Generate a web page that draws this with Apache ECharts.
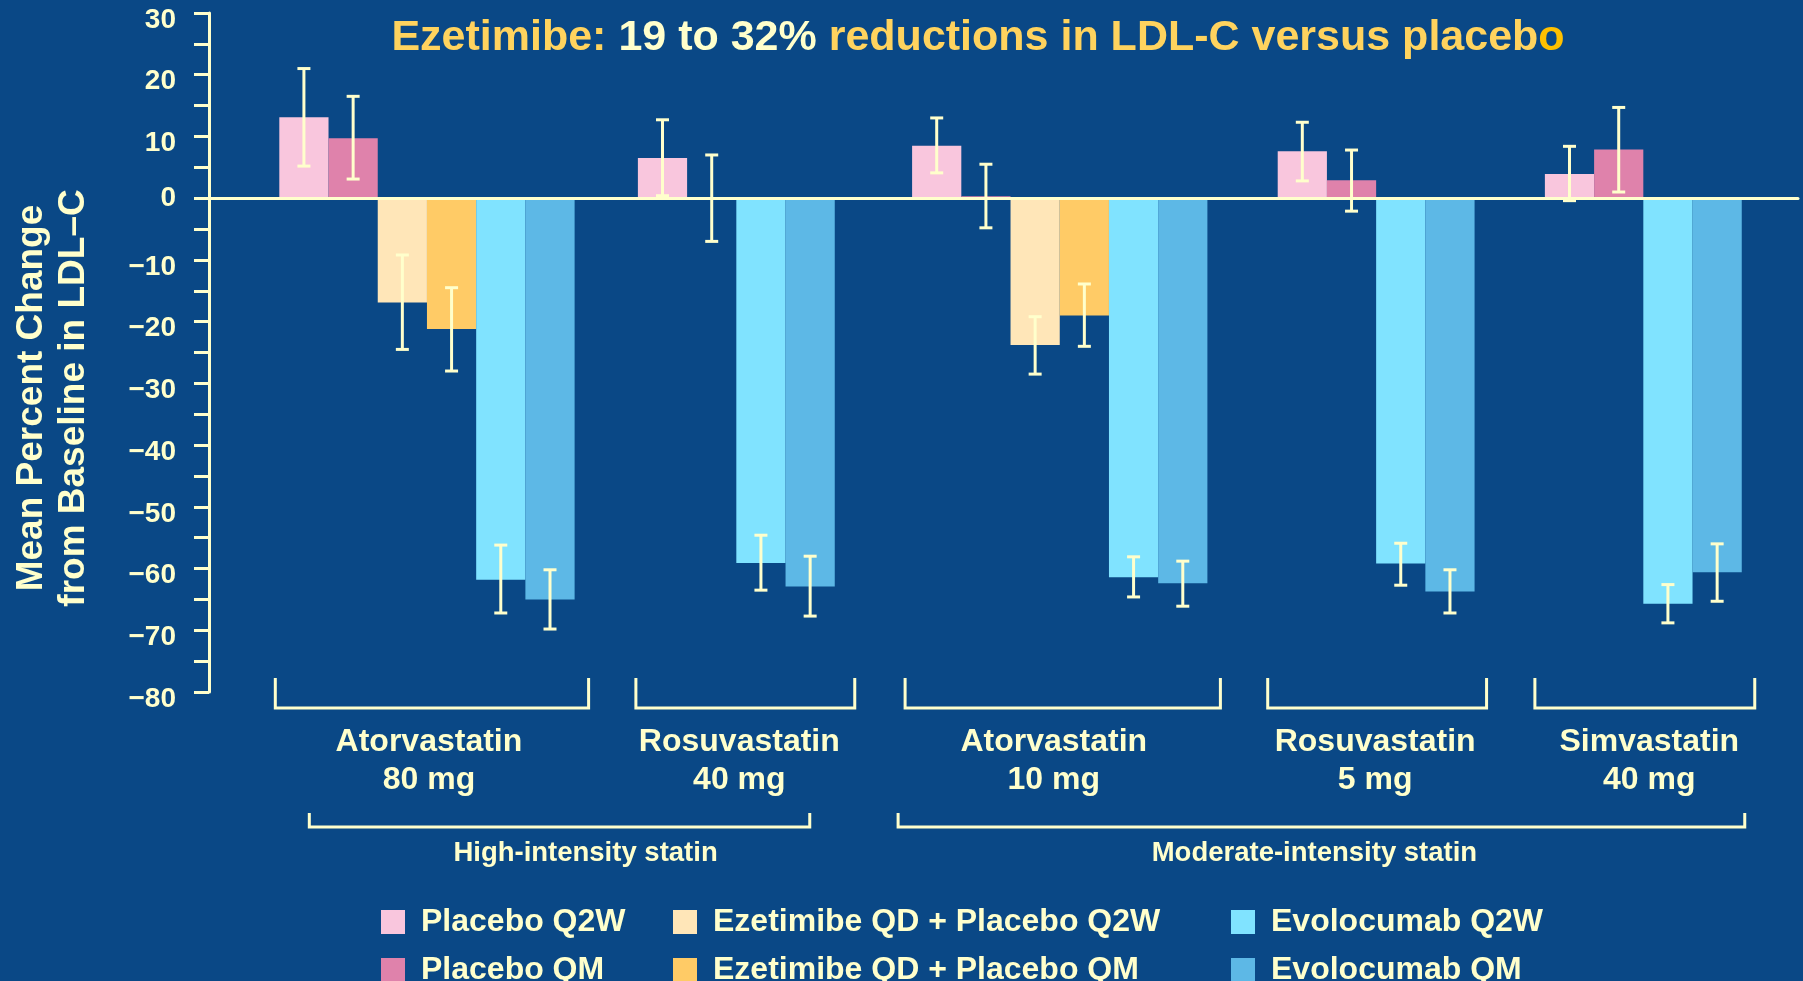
<!DOCTYPE html>
<html><head><meta charset="utf-8">
<script src="https://cdn.jsdelivr.net/npm/echarts@6/dist/echarts.min.js"></script>
<style>html,body{margin:0;padding:0;background:#0A4886;}#c{width:1803px;height:981px;}</style>
</head><body><div id="c"></div>
<script>
// ---------------- data ----------------
const groupLabels = ['Atorvastatin\n80 mg', 'Rosuvastatin\n40 mg', 'Atorvastatin\n10 mg', 'Rosuvastatin\n5 mg', 'Simvastatin\n40 mg'];
const intensityLabels = ['High-intensity statin', 'Moderate-intensity statin'];
const intensityGroups = [[0, 1], [2, 4]];
const seriesNames = ['Placebo Q2W', 'Placebo QM', 'Ezetimibe QD + Placebo Q2W', 'Ezetimibe QD + Placebo QM', 'Evolocumab Q2W', 'Evolocumab QM'];

const placeboQ2W     = [13.1, 6.5, 8.5, 7.6, 3.9];
const placeboQ2WLow  = [5.2, 0.4, 4.1, 2.8, -0.4];
const placeboQ2WHigh = [21.0, 12.7, 13.0, 12.3, 8.4];

const placeboQM      = [9.7, -0.3, 0.3, 2.9, 7.9];
const placeboQMLow   = [3.1, -7.0, -4.8, -2.1, 1.0];
const placeboQMHigh  = [16.5, 7.0, 5.5, 7.8, 14.7];

const ezeQ2W         = [-16.9, null, -23.8, null, null];
const ezeQ2WLow      = [-24.5, null, -28.5, null, null];
const ezeQ2WHigh     = [-9.2, null, -19.2, null, null];

const ezeQM          = [-21.2, null, -19.0, null, null];
const ezeQMLow       = [-28.0, null, -24.0, null, null];
const ezeQMHigh      = [-14.5, null, -13.9, null, null];

const evoQ2W         = [-61.8, -59.1, -61.4, -59.2, -65.7];
const evoQ2WLow      = [-67.2, -63.5, -64.6, -62.7, -68.8];
const evoQ2WHigh     = [-56.2, -54.6, -58.1, -55.9, -62.6];

const evoQM          = [-65.0, -62.9, -62.4, -63.7, -60.6];
const evoQMLow       = [-69.8, -67.7, -66.1, -67.2, -65.3];
const evoQMHigh      = [-60.2, -58.0, -58.8, -60.2, -56.0];

const seriesValues = [placeboQ2W, placeboQM, ezeQ2W, ezeQM, evoQ2W, evoQM];
const seriesLows   = [placeboQ2WLow, placeboQMLow, ezeQ2WLow, ezeQMLow, evoQ2WLow, evoQMLow];
const seriesHighs  = [placeboQ2WHigh, placeboQMHigh, ezeQ2WHigh, ezeQMHigh, evoQ2WHigh, evoQMHigh];

// ---------------- style / layout ----------------
const colors = ['#F9C6DD', '#DF82AB', '#FFE6B8', '#FFCB66', '#80E3FF', '#5DB8E6'];
const CREAM = '#FFFFCC';
const GOLD = '#FFD35E';
const BG = '#0A4886';
const FONT = "'Liberation Sans', Arial, Helvetica, sans-serif";
const BAR_SLOTS = 7, LEAD = 10, GROUP_GAPS = [9, 11, 10, 10], TRAIL = 8;
const bracketPadL = [-4, -2, -7, -10, -10];
const bracketPadR = [14, 20, 13, 12, 13];
const innerLabelDx = [2, 3, -6, -1, 6];
const outerInsets = [[30, -25], [-14, 3]];
const outerLabelDx = [26, -7];

// build slot categories (each bar spans BAR_SLOTS narrow categories)
const categories = [];
function addBlank(n) { for (let i = 0; i < n; i++) categories.push('gap ' + categories.length); }
const centers = seriesNames.map(() => []);
const groupSpan = [];
addBlank(LEAD);
groupLabels.forEach((gl, g) => {
  let first = null, last = null;
  seriesValues.forEach((vals, s) => {
    if (vals[g] == null) { centers[s][g] = null; return; }
    addBlank(Math.floor(BAR_SLOTS / 2));
    const c = categories.length;
    categories.push(gl.replace('\n', ' ') + ' · ' + seriesNames[s]);
    addBlank(BAR_SLOTS - 1 - Math.floor(BAR_SLOTS / 2));
    centers[s][g] = c;
    if (first === null) first = c;
    last = c;
  });
  groupSpan.push([first, last]);
  if (g < GROUP_GAPS.length) addBlank(GROUP_GAPS[g]);
});
addBlank(TRAIL);

const barSeries = seriesValues.map((vals, s) => {
  const data = categories.map(() => '-');
  vals.forEach((v, g) => { if (v != null) data[centers[s][g]] = v; });
  return {
    type: 'bar', name: seriesNames[s], stack: 'all', barWidth: (BAR_SLOTS * 100) + '%',
    data: data, itemStyle: { color: colors[s] }, z: 2, silent: true
  };
});

const errData = [];
seriesValues.forEach((vals, s) => vals.forEach((v, g) => {
  if (v != null) errData.push([centers[s][g], seriesLows[s][g], seriesHighs[s][g]]);
}));

const lineStyle = { stroke: CREAM, lineWidth: 3, fill: null };
const errorSeries = {
  type: 'custom', name: 'error', z: 6, silent: true,
  encode: { x: 0, y: [1, 2] },
  data: errData,
  renderItem(params, api) {
    const x = api.value(0);
    const t = api.coord([x, api.value(2)]);
    const b = api.coord([x, api.value(1)]);
    const hw = 6.5;
    return { type: 'group', children: [
      { type: 'line', shape: { x1: t[0], y1: t[1], x2: b[0], y2: b[1] }, style: lineStyle },
      { type: 'line', shape: { x1: t[0] - hw, y1: t[1], x2: t[0] + hw, y2: t[1] }, style: lineStyle },
      { type: 'line', shape: { x1: b[0] - hw, y1: b[1], x2: b[0] + hw, y2: b[1] }, style: lineStyle }
    ] };
  }
};

const bracketSeries = {
  type: 'custom', name: 'groups', silent: true, z: 6,
  encode: { x: [0, 1], y: 2 },
  data: groupSpan.map(sp => [sp[0], sp[1], -80]),
  renderItem(params, api) {
    const i = params.dataIndex;
    const cs = params.coordSys;
    const band = cs.width / categories.length;
    const bottom = cs.y + cs.height;
    const bl = api.coord([api.value(0), 0])[0] - BAR_SLOTS / 2 * band;
    const br = api.coord([api.value(1), 0])[0] + BAR_SLOTS / 2 * band;
    const l = bl + bracketPadL[i], r = br + bracketPadR[i];
    const top = bottom - 14, base = bottom + 16;
    return { type: 'group', children: [
      { type: 'polyline', shape: { points: [[l, top], [l, base], [r, base], [r, top]] }, style: lineStyle },
      { type: 'text', x: (bl + br) / 2 + innerLabelDx[i], y: bottom + 31, style: {
        text: groupLabels[i], fill: CREAM, fontSize: 32, fontWeight: 'bold',
        fontFamily: FONT, align: 'center', verticalAlign: 'top', lineHeight: 38 } }
    ] };
  }
};

const intensitySeries = {
  type: 'custom', name: 'intensity', silent: true, z: 6,
  encode: { x: [0, 1], y: 2 },
  data: intensityGroups.map(p => [groupSpan[p[0]][0], groupSpan[p[1]][1], -80]),
  renderItem(params, api) {
    const i = params.dataIndex;
    const cs = params.coordSys;
    const band = cs.width / categories.length;
    const bottom = cs.y + cs.height;
    const l = api.coord([api.value(0), 0])[0] - BAR_SLOTS / 2 * band + outerInsets[i][0];
    const r = api.coord([api.value(1), 0])[0] + BAR_SLOTS / 2 * band + outerInsets[i][1];
    const top = bottom + 121, base = bottom + 135;
    return { type: 'group', children: [
      { type: 'polyline', shape: { points: [[l, top], [l, base], [r, base], [r, top]] }, style: lineStyle },
      { type: 'text', x: (l + r) / 2 + outerLabelDx[i], y: bottom + 161, style: {
        text: intensityLabels[i], fill: CREAM, fontSize: 27.5, fontWeight: 'bold',
        fontFamily: FONT, align: 'center', verticalAlign: 'middle' } }
    ] };
  }
};

const legendText = { color: CREAM, fontSize: 32, fontWeight: 'bold', fontFamily: FONT, lineHeight: 24, padding: [0, 0, 0, 11] };
function mkLegend(names, left) {
  return { type: 'plain', data: names, orient: 'vertical', left: left, top: 906, height: 200, width: 560,
    itemWidth: 24, itemHeight: 24, itemGap: 16, icon: 'rect', textStyle: legendText,
    selectedMode: false, padding: 0 };
}

const chart = echarts.init(document.getElementById('c'));
chart.setOption({
  backgroundColor: BG,
  animation: false,
  grid: { left: 209, top: 13, width: 1589, height: 679, containLabel: false },
  xAxis: {
    type: 'category', data: categories, z: 4,
    axisLine: { onZero: true, lineStyle: { color: CREAM, width: 3 } },
    axisTick: { show: false }, axisLabel: { show: false }, splitLine: { show: false }
  },
  yAxis: {
    type: 'value', min: -80, max: 30, interval: 5,
    axisLine: { show: true, lineStyle: { color: CREAM, width: 3 } },
    axisTick: { show: true, length: 15, lineStyle: { color: CREAM, width: 3 } },
    axisLabel: {
      color: CREAM, fontSize: 28, fontWeight: 'bold', fontFamily: FONT, margin: 33,
      formatter: v => (v % 10 !== 0 ? '' : v === 0 ? '0' : '{n|' + (v < 0 ? '\u2212' + (-v) : String(v)) + '}'),
      rich: { n: { color: CREAM, fontSize: 28, fontWeight: 'bold', fontFamily: FONT, padding: [14, 0, 0, 0] } }
    },
    splitLine: { show: false }
  },
  legend: [
    mkLegend([seriesNames[0], seriesNames[1]], 381),
    mkLegend([seriesNames[2], seriesNames[3]], 673),
    mkLegend([seriesNames[4], seriesNames[5]], 1231)
  ],
  graphic: [
    { type: 'text', x: 978, y: 38, style: {
      text: '{a|Ezetimibe:} {b|19 to 32%} {a|reductions in LDL-C versus placeb}{c|o}',
      align: 'center', verticalAlign: 'middle',
      rich: {
        a: { fill: GOLD, fontSize: 43, fontWeight: 'bold', fontFamily: FONT },
        b: { fill: CREAM, fontSize: 43, fontWeight: 'bold', fontFamily: FONT },
        c: { fill: '#FFC000', fontSize: 43, fontWeight: 'bold', fontFamily: FONT }
      },
      fontSize: 43, fontWeight: 'bold', fontFamily: FONT } },
    { type: 'text', x: 52.5, y: 398, rotation: Math.PI / 2, style: {
      text: 'Mean Percent Change\nfrom Baseline in LDL\u2013C', fill: CREAM, fontSize: 37,
      fontWeight: 'bold', fontFamily: FONT, align: 'center', verticalAlign: 'middle', lineHeight: 42 } }
  ],
  series: [...barSeries, errorSeries, bracketSeries, intensitySeries]
});
</script></body></html>
